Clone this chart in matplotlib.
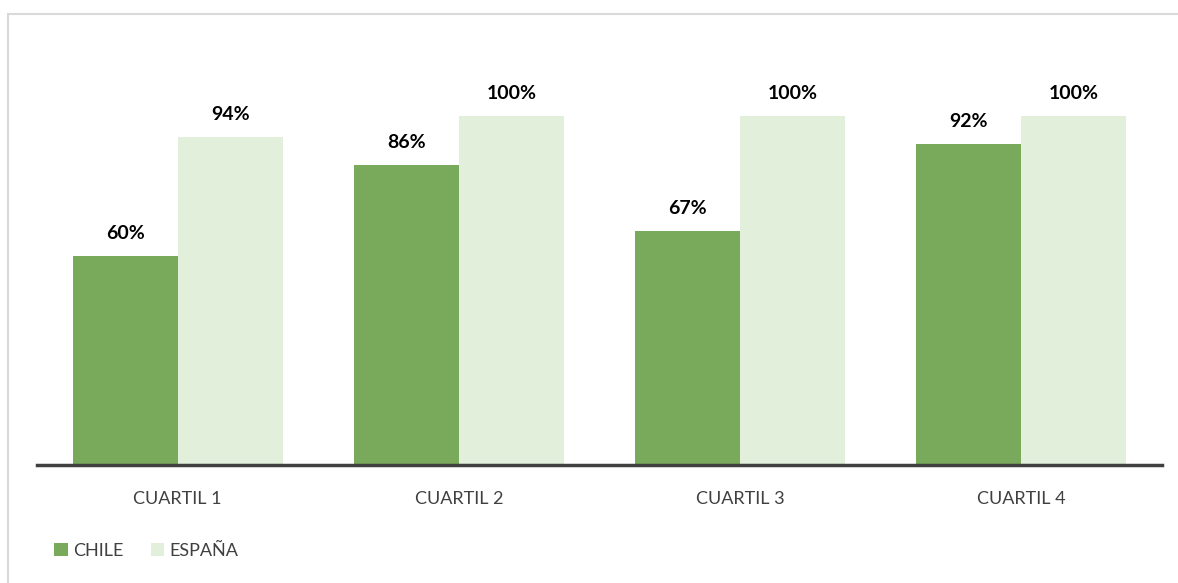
import numpy as np
import matplotlib.pyplot as plt
from matplotlib.patches import Rectangle

# Data
categories = ["CUARTIL 1", "CUARTIL 2", "CUARTIL 3", "CUARTIL 4"]
chile = [60, 86, 67, 92]
espana = [94, 100, 100, 100]
series_names = ["CHILE", "ESPAÑA"]

c_chile = "#79A95B"
c_espana = "#E2EFDA"

plt.rcParams['font.family'] = ['Lato', 'DejaVu Sans']

W, H = 1178, 583
fig = plt.figure(figsize=(W / 100, H / 100), dpi=100)

# light chart border (top and left visible)
fig.patches.append(Rectangle((8 / W, -0.1), 1.2, (H - 14) / H + 0.1,
                             transform=fig.transFigure, fill=False,
                             edgecolor="#D9D9D9", linewidth=1.5))

ax = fig.add_axes([37 / W, 118 / H, (1162 - 37) / W, (465 - 30) / H])

x = np.arange(len(categories))
w = 0.373
b1 = ax.bar(x - w / 2, chile, w, color=c_chile, label=series_names[0])
b2 = ax.bar(x + w / 2, espana, w, color=c_espana, label=series_names[1])

for bars, vals in [(b1, chile), (b2, espana)]:
    for rect, v in zip(bars, vals):
        ax.text(rect.get_x() + rect.get_width() / 2, v + 4, f"{v}%",
                ha="center", va="bottom", fontsize=14, fontweight="bold",
                color="black")

ax.set_xlim(-0.5, len(categories) - 0.5)
ax.set_ylim(0, 435 / 3.49)
ax.set_yticks([])
ax.set_xticks(x)
ax.set_xticklabels(categories, fontsize=13, color="#404040")
ax.tick_params(axis="x", length=0, pad=19)
for s in ["top", "right", "left"]:
    ax.spines[s].set_visible(False)
ax.spines["bottom"].set_color("#404040")
ax.spines["bottom"].set_linewidth(2.5)

fig.legend(loc="lower left", bbox_to_anchor=(38 / W, 8 / H), ncol=2,
           frameon=False, fontsize=13, handlelength=0.75, handleheight=0.75,
           handletextpad=0.3, columnspacing=1.5,
           labelcolor="#404040")

fig.savefig("out.png", dpi=100)
